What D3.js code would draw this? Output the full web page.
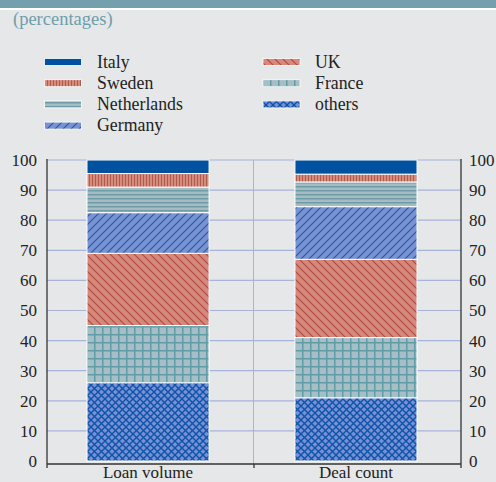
<!DOCTYPE html>
<html>
<head>
<meta charset="utf-8">
<script src="https://cdn.jsdelivr.net/npm/d3@7"></script>
<style>
  body { margin: 0; background: #e6e7e9; }
  svg text { font-family: "Times New Roman", "Liberation Serif", "DejaVu Serif", serif !important; }
</style>
</head>
<body>
<div id="app"></div>
<script>
const categories = ["Loan volume", "Deal count"];
const countries = ["others", "France", "UK", "Germany", "Netherlands", "Sweden", "Italy"];
const others = [26, 21];
const france = [19, 20];
const uk = [24, 26];
const germany = [13.5, 17.5];
const netherlands = [8.5, 8.2];
const sweden = [4.5, 2.6];
const italy = [4.5, 4.7];
const yTicks = [0, 10, 20, 30, 40, 50, 60, 70, 80, 90, 100];
const legendLeft = ["Italy", "Sweden", "Netherlands", "Germany"];
const legendRight = ["UK", "France", "others"];

const w = 496, h = 482;
const svg = d3.select("#app").append("svg").attr("width", w).attr("height", h);

svg.append("rect").attr("width", w).attr("height", h).attr("fill", "#e6e7e9");
svg.append("rect").attr("width", w).attr("height", 8).attr("fill", "#74a0ad");
svg.append("rect").attr("y", 8).attr("width", w).attr("height", 2).attr("fill", "#ffffff");

svg.append("text").attr("x", 13).attr("y", 25).attr("fill", "#6d9eab")
  .style("font-size", "18.5px").text("(percentages)");

// patterns
const defs = svg.append("defs");
function pat(id, size, bg, draw) {
  const p = defs.append("pattern").attr("id", id).attr("patternUnits", "userSpaceOnUse")
    .attr("width", size).attr("height", size);
  p.append("rect").attr("width", size).attr("height", size).attr("fill", bg);
  draw(p);
}
pat("p-sweden", 3, "#d68c7c", p => p.append("rect").attr("x", 2).attr("width", 1).attr("height", 3).attr("fill", "#b35a4f"));
pat("p-neth", 4, "#a6bcc3", p => p.append("rect").attr("y", 2).attr("width", 4).attr("height", 1.5).attr("fill", "#6d9ca7"));
pat("p-germany", 8, "#7a92cf", p => {
  p.append("path").attr("d", "M0,8 L8,0 M-2,2 L2,-2 M6,10 L10,6").attr("stroke", "#1e5cb3").attr("stroke-width", 1.2);
});
pat("p-uk", 8, "#d4897a", p => {
  p.append("path").attr("d", "M0,0 L8,8 M-2,6 L2,10 M6,-2 L10,2").attr("stroke", "#b24a45").attr("stroke-width", 1.2);
});
pat("p-france", 8, "#a6bec5", p => {
  p.append("rect").attr("x", 6).attr("width", 1.5).attr("height", 8).attr("fill", "#5f9ca6");
  p.append("rect").attr("y", 6).attr("width", 8).attr("height", 1.5).attr("fill", "#5f9ca6");
});
pat("p-others", 7, "#7b8fd6", p => {
  p.append("path").attr("d", "M0,0 L7,7 M7,0 L0,7").attr("stroke", "#0a55a8").attr("stroke-width", 1.4);
});

const fills = {
  Italy: "#00519f", Sweden: "url(#p-sweden)", Netherlands: "url(#p-neth)", Germany: "url(#p-germany)",
  UK: "url(#p-uk)", France: "url(#p-france)", others: "url(#p-others)"
};
const values = { others, France: france, UK: uk, Germany: germany, Netherlands: netherlands, Sweden: sweden, Italy: italy };

const pLeft = 47, pRight = 461, pTop = 160, pBottom = 461;
const y = d3.scaleLinear().domain([0, 100]).range([pBottom, pTop]);
const x = d3.scaleBand().domain(categories).range([44, 460]).paddingInner(0.413).paddingOuter(0.2067);

// grid
svg.append("g").selectAll("line").data(yTicks.filter(d => d > 0)).join("line")
  .attr("x1", pLeft).attr("x2", pRight).attr("y1", d => y(d)).attr("y2", d => y(d))
  .attr("stroke", "#a6b3da").attr("stroke-width", 1.2);
svg.append("line").attr("x1", 253.5).attr("x2", 253.5).attr("y1", pTop).attr("y2", pBottom + 3)
  .attr("stroke", "#a6b3da").attr("stroke-width", 1);

// stacked bars
const rows = categories.map((c, i) => {
  const r = { cat: c };
  countries.forEach(k => r[k] = values[k][i]);
  return r;
});
const series = d3.stack().keys(countries)(rows);
svg.append("g").selectAll("g").data(series).join("g")
  .attr("fill", d => fills[d.key])
  .selectAll("rect").data(d => d).join("rect")
  .attr("x", d => x(d.data.cat)).attr("width", x.bandwidth())
  .attr("y", d => y(d[1])).attr("height", d => y(d[0]) - y(d[1]))
  .attr("stroke", "#ffffff").attr("stroke-width", 1);

// axes
const yLeft = d3.axisLeft(y).tickValues(yTicks).tickSize(0).tickPadding(10);
const yRight = d3.axisRight(y).tickValues(yTicks).tickSize(0).tickPadding(8);
const gl = svg.append("g").attr("transform", "translate(" + pLeft + ",0)").call(yLeft);
const gr = svg.append("g").attr("transform", "translate(" + pRight + ",0)").call(yRight);
[gl, gr].forEach(g => {
  g.attr("font-family", null);
  g.select(".domain").attr("stroke", "#333").attr("stroke-width", 1.3).attr("d", "M0," + (pTop - 1) + "V" + (pBottom + 3));
  g.selectAll("text").attr("fill", "#222").style("font-size", "17px");
});

svg.append("line").attr("x1", pLeft).attr("x2", pRight).attr("y1", pBottom + 3).attr("y2", pBottom + 3)
  .attr("stroke", "#333").attr("stroke-width", 1.3);
svg.append("g").selectAll("line").data([pLeft, 254, pRight]).join("line")
  .attr("x1", d => d).attr("x2", d => d).attr("y1", pBottom + 3).attr("y2", pBottom + 7)
  .attr("stroke", "#333").attr("stroke-width", 1.3);

svg.append("g").selectAll("text").data(categories).join("text")
  .attr("x", d => x(d) + x.bandwidth() / 2).attr("y", 478)
  .attr("text-anchor", "middle").attr("fill", "#222").style("font-size", "17px").text(d => d);

// legend
const legend = svg.append("g");
function legendCol(names, sx, tx) {
  const g = legend.append("g");
  g.selectAll("rect").data(names).join("rect")
    .attr("x", sx).attr("y", (d, i) => 58.5 + i * 21.2).attr("width", 37).attr("height", 7)
    .attr("fill", d => fills[d]).attr("stroke", "#ffffff").attr("stroke-width", 0.8);
  g.selectAll("text").data(names).join("text")
    .attr("x", tx).attr("y", (d, i) => 67.5 + i * 21.2)
    .attr("fill", "#222").style("font-size", "17.8px").text(d => d);
}
legendCol(legendLeft, 44.5, 97);
legendCol(legendRight, 263, 315);
</script>
</body>
</html>
